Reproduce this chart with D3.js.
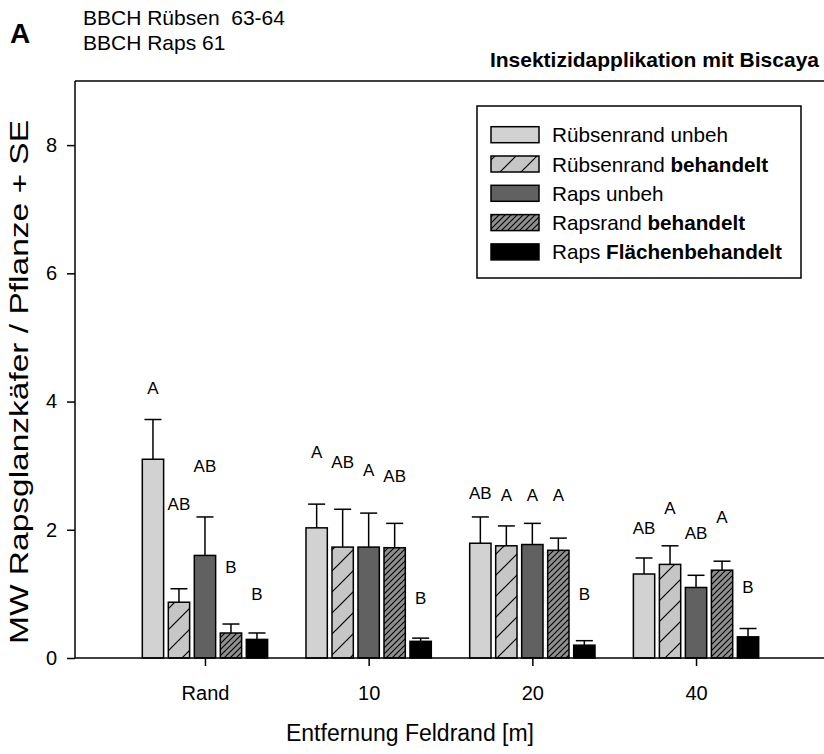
<!DOCTYPE html>
<html>
<head>
<meta charset="utf-8">
<script src="https://cdn.jsdelivr.net/npm/d3@7"></script>
<style>
  body { margin: 0; background: #fff; }
  svg text { font-family: "Liberation Sans", Arial, sans-serif; fill: #000; }
</style>
</head>
<body>
<svg id="chart" width="824" height="754"></svg>
<script>
// ---- data ----
const groups = ["Rand", "10", "20", "40"];
const series = ["Rübsenrand unbeh", "Rübsenrand behandelt", "Raps unbeh", "Rapsrand behandelt", "Raps Flächenbehandelt"];
const means = [
  [3.10, 0.87, 1.60, 0.39, 0.29],
  [2.03, 1.73, 1.73, 1.72, 0.26],
  [1.79, 1.75, 1.77, 1.68, 0.20],
  [1.31, 1.46, 1.10, 1.37, 0.33]
];
const se = [
  [0.62, 0.21, 0.60, 0.14, 0.10],
  [0.37, 0.59, 0.53, 0.38, 0.05],
  [0.41, 0.31, 0.33, 0.19, 0.07],
  [0.25, 0.29, 0.19, 0.14, 0.13]
];
const letters = [
  ["A", "AB", "AB", "B", "B"],
  ["A", "AB", "A", "AB", "B"],
  ["AB", "A", "A", "A", "B"],
  ["AB", "A", "AB", "A", "B"]
];
const letterLevel = [
  [4.21, 2.40, 3.00, 1.42, 1.00],
  [3.21, 3.05, 2.94, 2.84, 0.93],
  [2.57, 2.54, 2.54, 2.54, 1.00],
  [2.02, 2.34, 1.95, 2.20, 1.11]
];
const yTicks = [0, 2, 4, 6, 8];

// ---- styles ----
const fills = ["#d2d2d2", "url(#hatchWide)", "#616161", "url(#hatchDense)", "#000000"];

const svg = d3.select("#chart");
const defs = svg.append("defs");

// wide hatch
const p1 = defs.append("pattern").attr("id", "hatchWide").attr("patternUnits", "userSpaceOnUse")
  .attr("width", 21).attr("height", 21);
p1.append("rect").attr("width", 21).attr("height", 21).attr("fill", "#c6c6c6");
p1.append("path").attr("d", "M-5,5 L5,-5 M0,21 L21,0 M16,26 L26,16").attr("stroke", "#000").attr("stroke-width", 1.2);
// dense hatch
const p2 = defs.append("pattern").attr("id", "hatchDense").attr("patternUnits", "userSpaceOnUse")
  .attr("width", 6).attr("height", 6);
p2.append("rect").attr("width", 6).attr("height", 6).attr("fill", "#8e8e8e");
p2.append("path").attr("d", "M-1.5,1.5 L1.5,-1.5 M0,6 L6,0 M4.5,7.5 L7.5,4.5").attr("stroke", "#000").attr("stroke-width", 1.1);

const pLeft = 75, pRight = 826, pTop = 81, pBottom = 658;

const y = d3.scaleLinear().domain([0, 9]).range([pBottom, pTop]);
const x = d3.scalePoint().domain(groups).range([pLeft, pRight]).padding(0.794);
const xi = d3.scaleBand().domain(series).range([-65, 65]).paddingInner(0.18).paddingOuter(0.09);

// frame top line
svg.append("line").attr("x1", pLeft).attr("x2", 824).attr("y1", pTop).attr("y2", pTop)
  .attr("stroke", "#000").attr("stroke-width", 1.5);

// bars
const g = svg.append("g");
groups.forEach((grp, gi) => {
  series.forEach((s, si) => {
    const x0 = x(grp) + xi(s);
    const bw = xi.bandwidth();
    const cx = x0 + bw / 2;
    const v = means[gi][si];
    const e = v + se[gi][si];
    g.append("line").attr("x1", cx).attr("x2", cx).attr("y1", y(v)).attr("y2", y(e))
      .attr("stroke", "#000").attr("stroke-width", 1.5);
    g.append("line").attr("x1", cx - 8.5).attr("x2", cx + 8.5).attr("y1", y(e)).attr("y2", y(e))
      .attr("stroke", "#000").attr("stroke-width", 1.5);
    g.append("rect").attr("x", x0).attr("y", y(v)).attr("width", bw).attr("height", y(0) - y(v))
      .attr("fill", fills[si]).attr("stroke", "#000").attr("stroke-width", 1.5);
    g.append("text").attr("x", cx).attr("y", y(letterLevel[gi][si]) + 6)
      .attr("text-anchor", "middle").style("font-size", "17px").text(letters[gi][si]);
  });
});

// axes
const yAxis = d3.axisLeft(y).tickValues(yTicks).tickSize(8).tickPadding(10);
const ya = svg.append("g").attr("transform", `translate(${pLeft},0)`).call(yAxis);
ya.select(".domain").attr("d", `M0,${pTop}V${pBottom}`).attr("stroke-width", 1.5);
ya.selectAll(".tick line").attr("stroke-width", 1.5);
ya.selectAll(".tick text").style("font-size", "20px").style("font-family", "Liberation Sans, Arial, sans-serif");

const xAxis = d3.axisBottom(x).tickSize(8).tickPadding(20);
const xa = svg.append("g").attr("transform", `translate(0,${pBottom})`).call(xAxis);
xa.select(".domain").attr("d", `M${pLeft},0H824`).attr("stroke-width", 1.5);
xa.selectAll(".tick line").attr("stroke-width", 1.5);
xa.selectAll(".tick text").style("font-size", "20px").style("font-family", "Liberation Sans, Arial, sans-serif");

// axis titles
svg.append("text").attr("x", 410).attr("y", 741).attr("text-anchor", "middle")
  .style("font-size", "23px").text("Entfernung Feldrand [m]");
svg.append("text").attr("transform", `translate(28,382) rotate(-90)`)
  .attr("text-anchor", "middle").style("font-size", "25px")
  .attr("textLength", 524).attr("lengthAdjust", "spacingAndGlyphs")
  .text("MW Rapsglanzkäfer / Pflanze + SE");

// header texts
svg.append("text").attr("x", 10).attr("y", 43).style("font-size", "28px").style("font-weight", "bold").text("A");
svg.append("text").attr("x", 83).attr("y", 25).style("font-size", "21px")
  .attr("xml:space", "preserve").text("BBCH Rübsen  63-64");
svg.append("text").attr("x", 83).attr("y", 50).style("font-size", "21px").text("BBCH Raps 61");
svg.append("text").attr("x", 819).attr("y", 67).attr("text-anchor", "end")
  .style("font-size", "21px").style("font-weight", "bold").text("Insektizidapplikation mit Biscaya");

// legend
const lg = svg.append("g");
lg.append("rect").attr("x", 477).attr("y", 106).attr("width", 324).attr("height", 172)
  .attr("fill", "#fff").attr("stroke", "#000").attr("stroke-width", 1.5);
const legendParts = [
  [["Rübsenrand ", "normal"], ["unbeh", "normal"]],
  [["Rübsenrand ", "normal"], ["behandelt", "bold"]],
  [["Raps ", "normal"], ["unbeh", "normal"]],
  [["Rapsrand ", "normal"], ["behandelt", "bold"]],
  [["Raps ", "normal"], ["Flächenbehandelt", "bold"]]
];
series.forEach((s, i) => {
  const cy = 134.7 + i * 29.3;
  lg.append("rect").attr("x", 491).attr("y", cy - 8).attr("width", 48).attr("height", 16)
    .attr("fill", fills[i]).attr("stroke", "#000").attr("stroke-width", 1.5);
  const t = lg.append("text").attr("x", 552).attr("y", cy + 7.5).style("font-size", "20.7px")
    .attr("xml:space", "preserve");
  legendParts[i].forEach(([txt, w]) => t.append("tspan").style("font-weight", w).text(txt));
});
</script>
</body>
</html>
